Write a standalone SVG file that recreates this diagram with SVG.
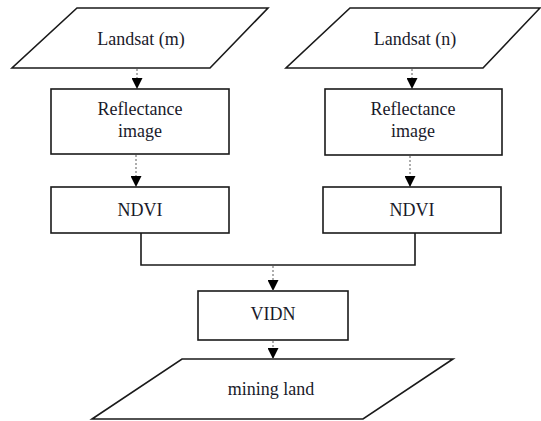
<svg xmlns="http://www.w3.org/2000/svg" width="541" height="421" viewBox="0 0 541 421">
<style>
.shape{fill:#fff;stroke:#1a1a1a;stroke-width:1.6}
.lbl{font-family:'Liberation Serif','DejaVu Serif',serif;font-size:18px;fill:#1a1a2a;text-anchor:middle}
.conn{fill:none;stroke:#1a1a1a;stroke-width:1.6}
.arr{fill:none;stroke:#777;stroke-width:1.2;stroke-dasharray:2 2;marker-end:url(#ah)}
</style>
<defs>
<marker id="ah" markerUnits="userSpaceOnUse" markerWidth="11" markerHeight="11" refX="10" refY="5" orient="auto" viewBox="0 0 10 10">
<path d="M0,0 L0,10 L10,5 z" fill="#000"/>
</marker>
</defs>
<rect width="541" height="421" fill="#fff"/>
<g id="landsat-m">
<polygon class="shape" points="77,8 268,8 210,68 12,68"/>
<text class="lbl" x="141" y="45">Landsat (m)</text>
</g>
<g id="landsat-n">
<polygon class="shape" points="350,8 540,8 483,68 286,68"/>
<text class="lbl" x="415" y="45">Landsat (n)</text>
</g>
<g id="refl-m">
<rect class="shape" x="51" y="89" width="178" height="65"/>
<text class="lbl" x="140" y="115">Reflectance</text>
<text class="lbl" x="140" y="137">image</text>
</g>
<g id="refl-n">
<rect class="shape" x="325" y="89" width="177" height="66"/>
<text class="lbl" x="413" y="115">Reflectance</text>
<text class="lbl" x="413" y="137">image</text>
</g>
<g id="ndvi-m">
<rect class="shape" x="51" y="187" width="178" height="46"/>
<text class="lbl" x="140" y="216">NDVI</text>
</g>
<g id="ndvi-n">
<rect class="shape" x="323" y="187" width="178" height="46"/>
<text class="lbl" x="412" y="216">NDVI</text>
</g>
<g id="vidn">
<rect class="shape" x="198" y="291" width="150" height="49"/>
<text class="lbl" x="273" y="320">VIDN</text>
</g>
<g id="mining-land">
<polygon class="shape" points="182,359 453,359 363,419 92,419"/>
<text class="lbl" x="271" y="395">mining land</text>
</g>
<g id="connectors">
<line class="arr" x1="137" y1="69" x2="137" y2="89"/>
<line class="arr" x1="412" y1="69" x2="412" y2="89"/>
<line class="arr" x1="136" y1="155" x2="136" y2="187"/>
<line class="arr" x1="410" y1="156" x2="410" y2="187"/>
<polyline class="conn" points="141,233 141,265 415,265 415,233"/>
<line class="arr" x1="273" y1="266" x2="273" y2="291"/>
<line class="arr" x1="273" y1="341" x2="273" y2="359"/>
</g>
</svg>
